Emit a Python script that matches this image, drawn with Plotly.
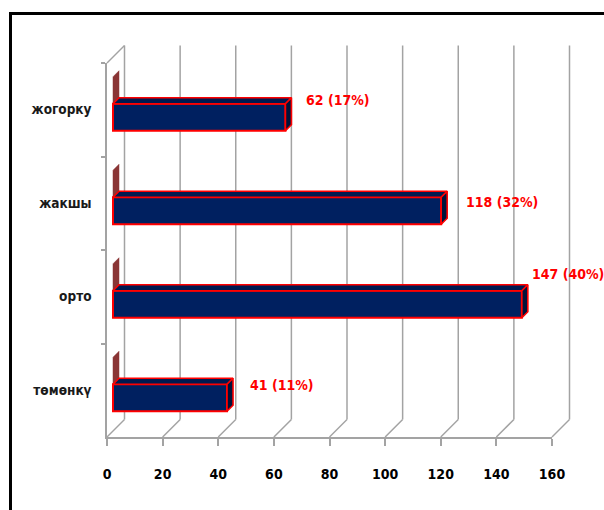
import plotly.graph_objects as go

# ---------------- data ----------------
categories = ["жогорку", "жакшы", "орто", "төмөнкү"]
values = [62, 118, 147, 41]
second_series = [0, 0, 0, 0]          # thin maroon series (zero length)
x_ticks = [0, 20, 40, 60, 80, 100, 120, 140, 160]
x_max = 160

# ---------------- geometry (pixels) ----------------
W, H = 604, 510
FX0, FX1 = 107, 552      # front plane: x of 0 and of x_max
FY0, FY1 = 63, 437       # front plane: top and bottom
S = (FX1 - FX0) / x_max  # px per value unit
C = (FY1 - FY0) / len(categories)  # px per category
BAR_D = 6                # depth offset of bar front faces
BAR_DEPTH = 6            # depth of bars
BACK_D = 17.5            # depth of back wall
BAR_H = 27               # bar thickness px

def dxu(px):
    return px / S

def dyu(px):
    return px / C

xr = [(0 - FX0) / S, (W - FX0) / S]
yr = [(H - FY0) / C - 0.5, (0 - FY0) / C - 0.5]

GRID = "#A3A3A3"
RED = "#FF0000"
NAVY = "#002060"
NAVY_TOP = "#001A50"
NAVY_SIDE = "#00123A"
MAROON = "#8A3535"
FONT = "Liberation Sans Narrow, DejaVu Sans Condensed, Roboto Condensed, Arial Narrow, Liberation Sans, Arial, sans-serif"

fig = go.Figure()

# ---------- structural lines (subplot 1, beneath everything) ----------
lx, ly = [], []
bx, by = dxu(BACK_D), dyu(BACK_D)
top_c, bot_c = -0.5, len(categories) - 0.5
for t in x_ticks:
    lx += [t + bx, t + bx, None]
    ly += [bot_c - by, top_c - by, None]
    lx += [t, t + bx, None]
    ly += [bot_c, bot_c - by, None]
lx += [0, bx, None]
ly += [top_c, top_c - by, None]
fig.add_trace(go.Scatter(x=lx, y=ly, mode="lines", line=dict(color=GRID, width=1.5),
                         hoverinfo="skip", showlegend=False, xaxis="x", yaxis="y"))

# ---------- front axes (subplot 2) ----------
fig.add_trace(go.Scatter(x=[None] * len(categories), y=categories, mode="markers",
                         showlegend=False, hoverinfo="skip", xaxis="x2", yaxis="y2"))

# ---------- bars (subplot 3) ----------
ox, oy = dxu(BAR_D), dyu(BAR_D)
dd, ddc = dxu(BAR_DEPTH), dyu(BAR_DEPTH)
bw = dyu(BAR_H)
ypos = [i - oy for i in range(len(categories))]

for i, s in enumerate(second_series):
    yt = ypos[i]
    xe = ox + s
    fig.add_trace(go.Scatter(
        x=[xe, xe, xe + dd, xe + dd, xe],
        y=[yt - bw, yt, yt - ddc, yt - bw - ddc, yt - bw],
        mode="lines", fill="toself", fillcolor=MAROON, line=dict(color=MAROON, width=0.5),
        hoverinfo="skip", showlegend=False, xaxis="x3", yaxis="y3"))

fig.add_trace(go.Bar(
    x=values, y=ypos, base=[ox] * len(values), orientation="h",
    width=bw, offset=0,
    marker=dict(color=NAVY, line=dict(color=RED, width=2)),
    hoverinfo="skip", showlegend=False, xaxis="x3", yaxis="y3"))

for i, v in enumerate(values):
    yt = ypos[i]
    xe = ox + v
    fig.add_trace(go.Scatter(
        x=[ox, xe, xe + dd, ox + dd, ox],
        y=[yt, yt, yt - ddc, yt - ddc, yt],
        mode="lines", fill="toself", fillcolor=NAVY_TOP, line=dict(color=RED, width=1.6),
        hoverinfo="skip", showlegend=False, xaxis="x3", yaxis="y3"))
    fig.add_trace(go.Scatter(
        x=[xe, xe, xe + dd, xe + dd, xe],
        y=[yt, yt + bw, yt + bw - ddc, yt - ddc, yt],
        mode="lines", fill="toself", fillcolor=NAVY_SIDE, line=dict(color=RED, width=1.6),
        hoverinfo="skip", showlegend=False, xaxis="x3", yaxis="y3"))

# ---------- data labels ----------
total = sum(values)
label_shift = [(19, 4), (23, -5), (8, 17), (21, -1)]   # px tweaks (x, up)
annotations = []
for i, v in enumerate(values):
    pct = round(100 * v / total)
    annotations.append(dict(
        x=ox + v, y=ypos[i], xref="x3", yref="y3",
        text=f"{v} ({pct}%)", showarrow=False, xanchor="left", yanchor="middle",
        xshift=label_shift[i][0], yshift=label_shift[i][1],
        font=dict(family=FONT, size=14, color=RED, weight="bold")))

world_x = dict(domain=[0, 1], range=xr, visible=False, fixedrange=True, automargin=False)
world_y = dict(domain=[0, 1], range=yr, visible=False, fixedrange=True, automargin=False)

fig.update_layout(
    template="none",
    width=W, height=H,
    margin=dict(l=0, r=0, t=0, b=0, pad=0, autoexpand=False),
    paper_bgcolor="white", plot_bgcolor="rgba(0,0,0,0)",
    showlegend=False,
    xaxis=dict(world_x, anchor="y"),
    yaxis=dict(world_y, anchor="x"),
    xaxis3=dict(world_x, anchor="y3"),
    yaxis3=dict(world_y, anchor="x3"),
    xaxis2=dict(domain=[FX0 / W, FX1 / W], range=[0, x_max], anchor="y2",
                tickmode="array", tickvals=x_ticks, ticktext=[str(t) for t in x_ticks],
                ticks="outside", ticklen=7, tickwidth=1.5, tickcolor=GRID,
                showline=True, linecolor=GRID, linewidth=1.5,
                showgrid=False, zeroline=False, fixedrange=True, automargin=False,
                ticklabelstandoff=16,
                tickfont=dict(family=FONT, size=14, color="black", weight="bold")),
    yaxis2=dict(domain=[1 - FY1 / H, 1 - FY0 / H], anchor="x2", type="category",
                categoryorder="array", categoryarray=categories,
                range=[len(categories) - 0.5, -0.5],
                tickson="boundaries", ticks="outside", ticklen=4, tickwidth=1.5,
                tickcolor=GRID, showline=True, linecolor=GRID, linewidth=1.5,
                showgrid=False, zeroline=False, fixedrange=True, automargin=False,
                ticklabelstandoff=11,
                tickfont=dict(family=FONT, size=13.5, color="#1a1a1a", weight="bold")),
    annotations=annotations,
    shapes=[dict(type="rect", xref="paper", yref="paper",
                 x0=10.5 / W, x1=1.2, y0=-0.2, y1=1 - 13.5 / H,
                 line=dict(color="black", width=3), fillcolor="rgba(0,0,0,0)")],
)

fig.write_html("out.html")
